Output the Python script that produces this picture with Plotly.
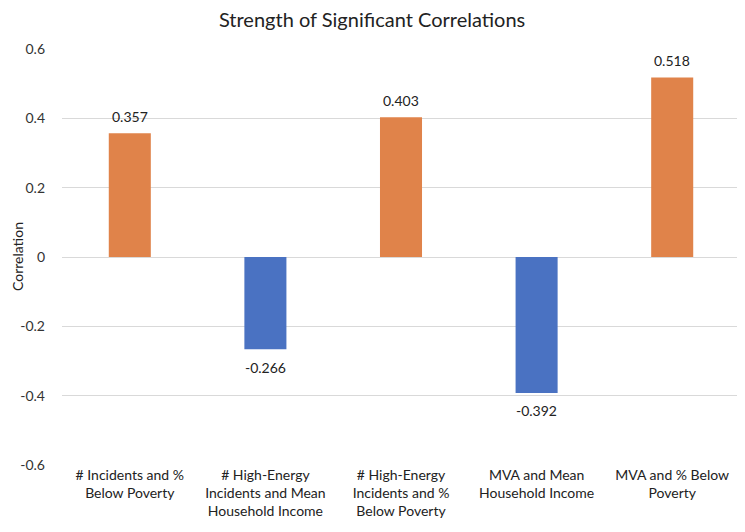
import plotly.graph_objects as go

categories = [
    "# Incidents and %<br>Below Poverty",
    "# High-Energy<br>Incidents and Mean<br>Household Income",
    "# High-Energy<br>Incidents and %<br>Below Poverty",
    "MVA and Mean<br>Household Income",
    "MVA and % Below<br>Poverty",
]
values = [0.357, -0.266, 0.403, -0.392, 0.518]
labels = ["0.357", "-0.266", "0.403", "-0.392", "0.518"]
pos_color = "#E0834A"
neg_color = "#4A72C2"
colors = [pos_color if v >= 0 else neg_color for v in values]

font_family = "Lato, Open Sans, sans-serif"

fig = go.Figure(
    go.Bar(
        x=categories,
        y=values,
        marker=dict(color=colors, line=dict(width=0)),
        width=0.31,
        hoverinfo="x+y",
    )
)

for c, v, t in zip(categories, values, labels):
    fig.add_annotation(
        x=c, y=v, text=t, showarrow=False,
        xref="x", yref="y",
        yanchor="middle",
        yshift=17 if v >= 0 else -18,
        font=dict(size=14, color="#222222", family=font_family),
    )

# y-axis title placed near the left edge of the figure
fig.add_annotation(
    text="Correlation", textangle=-90, showarrow=False,
    xref="paper", yref="paper", x=0, y=0.5,
    xanchor="center", yanchor="middle", xshift=-45,
    font=dict(size=14, color="#222222", family=font_family),
)

# page body has an 8px default margin; figure is sized to fit the window
fig.update_layout(
    width=737,
    height=524,
    margin=dict(l=54, r=5, t=41, b=67, autoexpand=False),
    paper_bgcolor="white",
    plot_bgcolor="white",
    showlegend=False,
    font=dict(family=font_family, color="#333333"),
    title=dict(
        text="Strength of Significant Correlations",
        x=0.494,
        xref="container",
        xanchor="center",
        y=0.978,
        yref="container",
        yanchor="middle",
        font=dict(size=20, color="#222222", family=font_family),
    ),
    xaxis=dict(
        showgrid=False,
        showline=False,
        ticks="",
        automargin=False,
        tickfont=dict(size=14, color="#222222", family=font_family),
    ),
    yaxis=dict(
        range=[-0.6, 0.6],
        tickvals=[-0.6, -0.4, -0.2, 0, 0.2, 0.4, 0.6],
        ticktext=["-0.6", "-0.4", "-0.2", "0", "0.2", "0.4", "0.6"],
        showgrid=True,
        gridcolor="#D9D9D9",
        gridwidth=1,
        zeroline=True,
        zerolinecolor="#D9D9D9",
        zerolinewidth=1,
        showline=False,
        ticks="",
        automargin=False,
        ticklabelstandoff=16,
        tickfont=dict(size=14, color="#333333", family=font_family),
    ),
)

fig.write_html("out.html")
